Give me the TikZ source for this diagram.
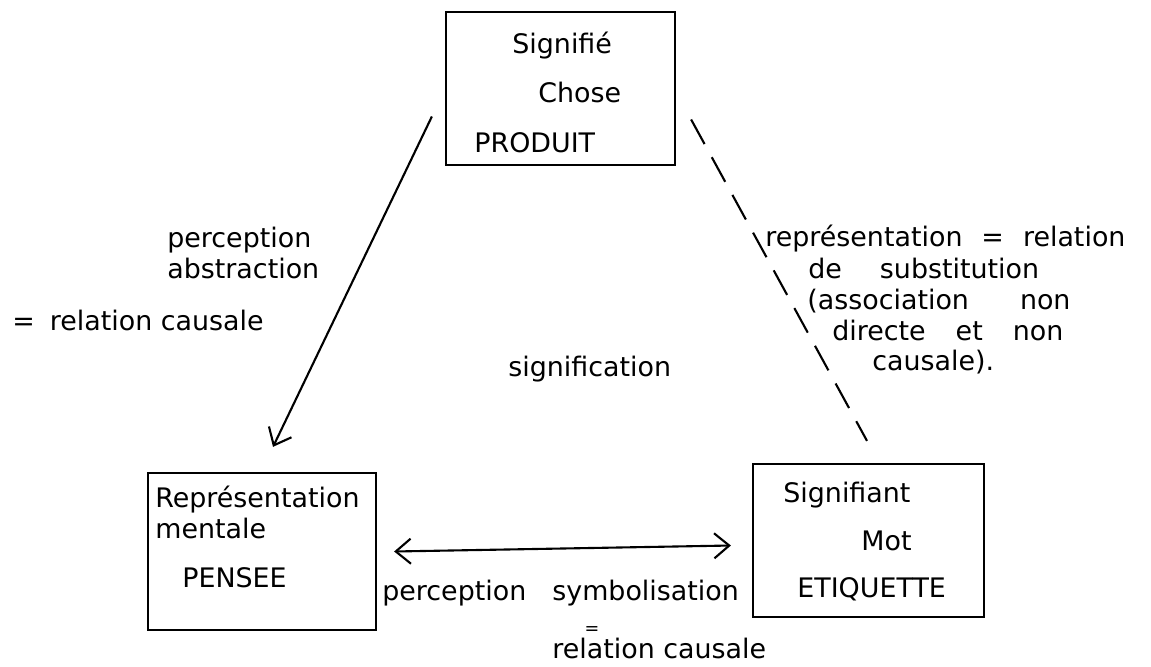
\documentclass[tikz,border=0pt]{standalone}
\usepackage{fontspec}
\setmainfont{DejaVu Sans}
\usetikzlibrary{calc,arrows.meta}

\begin{document}
\begin{tikzpicture}[
		x=0.02cm, y=-0.02cm,
		every node/.style={font=\fontsize{15.3}{18}\selectfont},
		box/.style={rectangle, draw=black, line width=1.3pt},
		txt/.style={inner sep=0pt, anchor=base west},
		arrow/.style={-{Straight Barb[length=0.3cm,width=0.5cm]}, line width=1.2pt},
		link/.style={line width=1.2pt, dash pattern=on 0.56cm off 0.3cm}
	]
	\useasboundingbox (0,0) rectangle (1151,666);

	% Boxes
	\node[box, minimum width=4.58cm, minimum height=3.06cm] (sig) at (560.5,88.5) {};
	\node[box, minimum width=4.56cm, minimum height=3.14cm] (pen) at (262,551.5) {};
	\node[box, minimum width=4.62cm, minimum height=3.06cm] (sif) at (868.5,540.5) {};

	% Box texts
	\node[txt] (sigA) at (512,53) {Signifié};
	\node[txt] (sigB) at (538,102) {Chose};
	\node[txt] (sigC) at (474,152) {PRODUIT};

	\node[txt] (penA) at (155,507) {Représentation};
	\node[txt] (penB) at (155,538) {mentale};
	\node[txt] (penC) at (182,587) {PENSEE};

	\node[txt] (sifA) at (783,502) {Signifiant};
	\node[txt] (sifB) at (861,550) {Mot};
	\node[txt] (sifC) at (797,597) {ETIQUETTE};

	% Labels
	\node[txt] (percA) at (167,247) {perception};
	\node[txt] (percB) at (167,278) {abstraction};
	\node[txt] (causA) at (12,330) {=\hspace{0.3cm}relation causale};
	\node[txt] (signif) at (508,376) {signification};

	\node[txt] (repA) at (765,246) {représentation\hspace{0.38cm}=\hspace{0.38cm}relation};
	\node[txt] (repB) at (808,278) {de\hspace{0.76cm}substitution};
	\node[txt] (repC) at (807,309) {(association\hspace{1.02cm}non};
	\node[txt] (repD) at (832,340) {directe\hspace{0.6cm}et\hspace{0.6cm}non};
	\node[txt] (repE) at (872,370) {causale).};

	\node[txt] (percC) at (382,600) {perception};
	\node[txt] (symb) at (552,600) {symbolisation};
	\node[inner sep=0pt, font=\fontsize{10}{12}\selectfont] (eqB) at (592,630) {=};
	\node[txt] (causB) at (552,658) {relation causale};

	% Arrows
	\draw[arrow] ($(sig.west)+(-13,28)$) -- ($(pen.north)+(11,-25)$);
	\draw[link] ($(sig.east)+(15,31)$) -- ($(sif.north)+(-1.5,-22)$);
	\draw[arrow, {Straight Barb[length=0.3cm,width=0.5cm]}-{Straight Barb[length=0.3cm,width=0.5cm]}]
		($(pen.east)+(17,0)$) -- ($(sif.west)+(-21,5)$);

\end{tikzpicture}
\end{document}
